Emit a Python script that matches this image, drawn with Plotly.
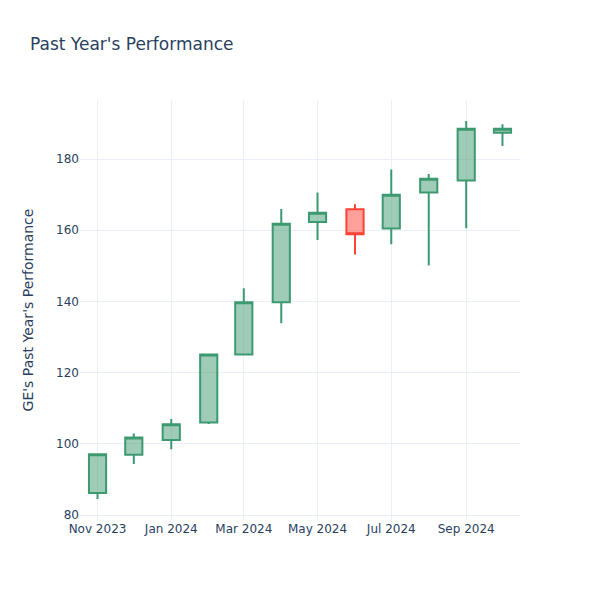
import plotly.graph_objects as go

dates = ["2023-11-01", "2023-12-01", "2024-01-01", "2024-02-01", "2024-03-01", "2024-04-01",
         "2024-05-01", "2024-06-01", "2024-07-01", "2024-08-01", "2024-09-01", "2024-10-01"]
opens = [86.2, 96.9, 101.1, 106.0, 125.1, 139.8, 162.3, 165.9, 160.5, 170.6, 174.0, 187.4]
highs = [97.2, 102.9, 107.0, 125.1, 143.7, 166.0, 170.6, 167.3, 177.1, 175.8, 190.7, 189.8]
lows = [84.5, 94.3, 98.5, 105.6, 125.0, 133.9, 157.3, 153.2, 156.1, 150.1, 160.6, 183.7]
closes = [97.1, 101.8, 105.5, 125.1, 139.8, 161.8, 164.9, 158.9, 170.0, 174.5, 188.5, 188.5]

fig = go.Figure(go.Candlestick(x=dates, open=opens, high=highs, low=lows, close=closes))
fig.update_layout(
    template="plotly_white",
    font_family="DejaVu Sans",
    title="Past Year's Performance",
    yaxis_title="GE's Past Year's Performance",
    yaxis_automargin=True,
    yaxis_title_standoff=19,
    xaxis_rangeslider_visible=False,
    width=600, height=600,
)
fig.write_html("out.html", config={"displayModeBar": False},
               post_script="document.body.style.margin='0';")
